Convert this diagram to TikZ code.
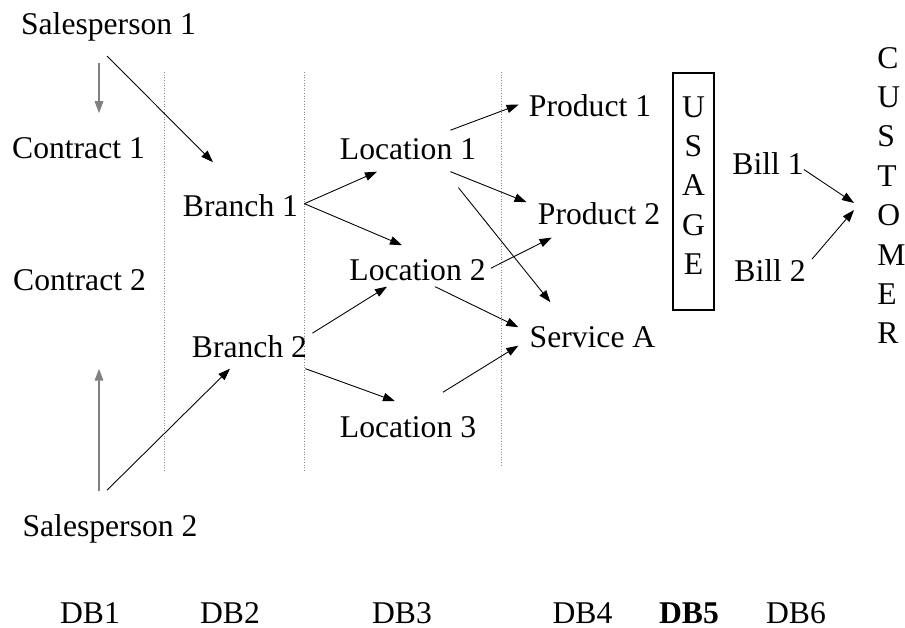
\documentclass[tikz,border=0pt]{standalone}
\usepackage{fontspec}
\setmainfont{Liberation Serif}
\usetikzlibrary{arrows.meta}
\usepackage{xcolor}
\definecolor{sepgray}{HTML}{8C8C8C}
\definecolor{feedgray}{HTML}{808080}

\begin{document}
\begin{tikzpicture}[
    lbl/.style={font=\fontsize{18}{22.4}\selectfont, inner sep=0pt, anchor=base},
    link/.style={-{Triangle[length=2.4mm,width=1.7mm]}, line width=0.5pt},
    feed/.style={link, draw=feedgray, fill=feedgray, line width=0.9pt}]
  \useasboundingbox (0,0) rectangle (18.1,12.56);

  % Database separators
  \draw[sepgray, densely dotted, line width=0.5pt] (3.28,11.12) -- (3.28,3.12);
  \draw[sepgray, densely dotted, line width=0.5pt] (6.08,11.12) -- (6.08,3.12);
  \draw[sepgray, densely dotted, line width=0.5pt] (10.02,11.12) -- (10.02,3.26);

  % Sales side
  \node[lbl] (sp1)  at (2.17, 11.86) {Salesperson 1};
  \node[lbl] (con1) at (1.57, 9.38)  {Contract 1};
  \node[lbl] (con2) at (1.59, 6.74)  {Contract 2};
  \node[lbl] (sp2)  at (2.20, 1.82)  {Salesperson 2};

  % Branches and locations
  \node[lbl] (br1)  at (4.81, 8.22)  {Branch 1};
  \node[lbl] (br2)  at (4.99, 5.40)  {Branch 2};
  \node[lbl] (loc1) at (8.16, 9.36)  {Location 1};
  \node[lbl] (loc2) at (8.35, 6.94)  {Location 2};
  \node[lbl] (loc3) at (8.16, 3.80)  {Location 3};

  % Products and services
  \node[lbl] (prod1) at (11.80, 10.22) {Product 1};
  \node[lbl] (prod2) at (11.98, 8.06)  {Product 2};
  \node[lbl] (serva) at (11.85, 5.60)  {Service A};

  % Usage, bills, customer
  \node[lbl, anchor=center, draw, line width=0.6pt, align=center,
        minimum width=0.82cm, minimum height=4.74cm]
        (usage) at (13.87, 8.73) {U\\S\\A\\G\\E\strut};
  \node[lbl] (bill1) at (15.36, 9.06) {Bill 1};
  \node[lbl] (bill2) at (15.40, 6.92) {Bill 2};
  \node[lbl, anchor=west, align=left]
        (cust) at (17.54, 8.65) {C\\U\\S\\T\\O\\M\\E\\R};

  % Database labels
  \node[lbl] (db1) at (1.80, 0.09)  {DB1};
  \node[lbl] (db2) at (4.60, 0.09)  {DB2};
  \node[lbl] (db3) at (8.04, 0.09)  {DB3};
  \node[lbl] (db4) at (11.65, 0.09) {DB4};
  \node[lbl, font=\fontsize{18}{22.4}\selectfont\bfseries] (db5) at (13.78, 0.09) {DB5};
  \node[lbl] (db6) at (15.92, 0.09) {DB6};

  % Salespeople to contracts and branches
  \draw[feed] ([xshift=-0.19cm,yshift=-0.42cm]sp1.south) -- ([xshift=0.41cm,yshift=0.49cm]con1.north);
  \draw[link] ([xshift=-0.03cm,yshift=-0.28cm]sp1.south) -- ([xshift=-0.55cm,yshift=0.65cm]br1.north);
  \draw[feed] ([xshift=-0.22cm,yshift=0.47cm]sp2.north) -- ([xshift=0.39cm,yshift=-1.54cm]con2.south);
  \draw[link] ([xshift=-0.06cm,yshift=0.49cm]sp2.north) -- ([xshift=-0.39cm,yshift=-0.20cm]br2.south);

  % Branches to locations
  \draw[link] ([xshift=0.12cm,yshift=0.05cm]br1.east) -- ([xshift=-0.62cm,yshift=-0.22cm]loc1.south);
  \draw[link] ([xshift=0.12cm,yshift=0.05cm]br1.east) -- ([xshift=-0.31cm,yshift=0.29cm]loc2.north);
  \draw[link] ([xshift=0.10cm,yshift=0.05cm]br2.north east) -- ([xshift=-0.61cm,yshift=-0.10cm]loc2.south);
  \draw[link] ([xshift=-0.04cm,yshift=-0.20cm]br2.south east) -- ([xshift=-0.26cm,yshift=0.31cm]loc3.north);

  % Locations to products and services
  \draw[link] ([xshift=-0.52cm,yshift=0.17cm]loc1.north east) -- ([xshift=-0.20cm,yshift=0.03cm]prod1.west);
  \draw[link] ([xshift=-0.52cm,yshift=-0.22cm]loc1.south east) -- ([xshift=-0.22cm,yshift=0.01cm]prod2.north west);
  \draw[link] ([xshift=-0.36cm,yshift=-0.54cm]loc1.south east) -- ([xshift=0.42cm,yshift=0.49cm]serva.north west);
  \draw[link] ([xshift=0.10cm,yshift=0.05cm]loc2.east) -- ([xshift=0.28cm,yshift=-0.24cm]prod2.south west);
  \draw[link] ([xshift=0.35cm,yshift=-0.10cm]loc2.south) -- ([xshift=-0.22cm,yshift=-0.01cm]serva.north west);
  \draw[link] ([xshift=0.70cm,yshift=0.49cm]loc3.north) -- ([xshift=-0.22cm,yshift=0.06cm]serva.south west);

  % Bills to customer
  \draw[link] ([yshift=-0.11cm]bill1.east) -- ([xshift=-0.46cm,yshift=-0.15cm]cust.west);
  \draw[link] ([xshift=0.12cm,yshift=0.01cm]bill2.north east) -- ([xshift=-0.46cm,yshift=-0.29cm]cust.west);
\end{tikzpicture}
\end{document}
